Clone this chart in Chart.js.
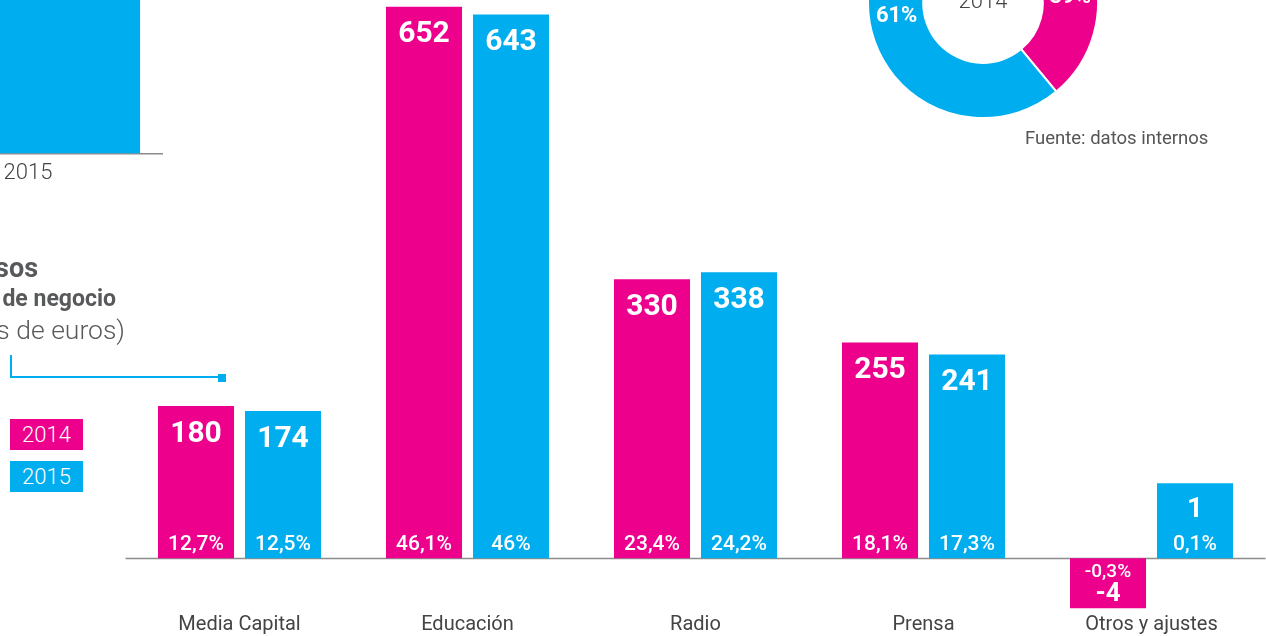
<!DOCTYPE html>
<html>
<head>
<meta charset="utf-8">
<script src="https://cdn.jsdelivr.net/npm/chart.js@4/dist/chart.umd.min.js"></script>
<style>
  html, body { margin: 0; padding: 0; background: #fff; }
  #page { position: relative; width: 1266px; height: 636px; overflow: hidden; font-family: Roboto, "Open Sans", sans-serif; }
  canvas { position: absolute; }
  #main { left: 0; top: 0; }
  #totals { left: -377px; top: -238px; }
  #donut { left: 867px; top: -113px; }
  .t { position: absolute; white-space: nowrap; text-align: right; color: #58595b; line-height: 1; }
  .key { position: absolute; left: 10px; width: 73px; height: 31px; color: #fff; font-size: 22px; font-weight: 300;
         display: flex; align-items: center; justify-content: center; }
  .rule { position: absolute; background: #00aeef; }
  #source { position: absolute; left: 1025px; top: 127px; font-size: 18.5px; color: #555; white-space: nowrap; }
</style>
</head>
<body>
<div id="page">
  <canvas id="totals" width="540" height="432"></canvas>
  <canvas id="donut" width="232" height="232"></canvas>
  <canvas id="main" width="1266" height="636"></canvas>

  <div class="t" style="right:1228px; top:255px; font-size:27px; font-weight:700;">Ingresos</div>
  <div class="t" style="right:1150px; top:287px; font-size:23px; font-weight:700;">por unidad de negocio</div>
  <div class="t" style="right:1141px; top:317px; font-size:26.5px; font-weight:300;">(millones de euros)</div>

  <div class="rule" style="left:10px; top:355px; width:2px; height:23px;"></div>
  <div class="rule" style="left:10px; top:376px; width:212px; height:2px;"></div>
  <div class="rule" style="left:218px; top:374px; width:8px; height:8px;"></div>

  <div class="key" id="key2014" style="top:419px; background:#ec008c;"></div>
  <div class="key" id="key2015" style="top:461px; background:#00aeef;"></div>

  <div id="source">Fuente: datos internos</div>
</div>

<script>
// Revenue by business unit, million euros
const categories = ['Media Capital', 'Educación', 'Radio', 'Prensa', 'Otros y ajustes'];
const years = ['2014', '2015'];
const revenue2014 = [180, 652, 330, 255, -4];
const revenue2015 = [174, 643, 338, 241, 1];
const share2014 = [12.7, 46.1, 23.4, 18.1, -0.3];
const share2015 = [12.5, 46, 24.2, 17.3, 0.1];

// Group totals per year
const totalRevenue = [1413, 1397];

// Split of the 2014 ring (percent)
const ringShare2014 = [39, 61];

const PINK = '#ec008c';
const CYAN = '#00aeef';
const FONT = 'Roboto, "Open Sans", sans-serif';

document.getElementById('key2014').textContent = years[0];
document.getElementById('key2015').textContent = years[1];

const pct = v => String(v).replace('.', ',') + '%';

// Thin grey line at the zero value, under the bars
const zeroLine = {
  id: 'zeroLine',
  beforeDatasetsDraw(chart) {
    const { ctx, chartArea, scales } = chart;
    const y = Math.round(scales.y.getPixelForValue(0)) + 0.5;
    ctx.save();
    ctx.strokeStyle = '#8c8c8c';
    ctx.lineWidth = 1.5;
    ctx.beginPath();
    ctx.moveTo(chartArea.left, y);
    ctx.lineTo(chartArea.right, y);
    ctx.stroke();
    ctx.restore();
  }
};

// Value near the top of each bar, share near its base
const barLabels = {
  id: 'barLabels',
  afterDatasetsDraw(chart) {
    const ctx = chart.ctx;
    ctx.save();
    ctx.fillStyle = '#fff';
    ctx.textAlign = 'center';
    ctx.textBaseline = 'middle';
    chart.data.datasets.forEach((ds, di) => {
      chart.getDatasetMeta(di).data.forEach((bar, i) => {
        const v = ds.data[i];
        const s = pct(ds.shares[i]);
        if (v >= 0) {
          const small = (bar.base - bar.y) < 100;
          ctx.font = 'bold ' + (small ? 28 : 30) + 'px ' + FONT;
          ctx.fillText(String(v), bar.x, bar.y + (small ? 27 : 28));
          ctx.font = '500 21px ' + FONT;
          ctx.fillText(s, bar.x, bar.base - 14);
        } else {
          ctx.font = '500 19px ' + FONT;
          ctx.fillText(s, bar.x, bar.base + 14);
          ctx.font = 'bold 26px ' + FONT;
          ctx.fillText(String(v), bar.x, bar.base + 36);
        }
      });
    });
    ctx.restore();
  }
};

new Chart(document.getElementById('main'), {
  type: 'bar',
  data: {
    labels: categories,
    datasets: [
      { label: years[0], data: revenue2014, shares: share2014, backgroundColor: PINK,
        categoryPercentage: 0.763, barPercentage: 0.874, minBarLength: 50, clip: false },
      { label: years[1], data: revenue2015, shares: share2015, backgroundColor: CYAN,
        categoryPercentage: 0.763, barPercentage: 0.874, minBarLength: 75, clip: false }
    ]
  },
  options: {
    responsive: false,
    animation: false,
    layout: { padding: { left: 125.5, right: 0.5, top: 0, bottom: -5 } },
    plugins: { legend: { display: false }, tooltip: { enabled: false } },
    scales: {
      x: {
        grid: { display: false, drawTicks: false },
        border: { display: false },
        ticks: { color: '#444', font: { family: FONT, size: 20 }, padding: 4, maxRotation: 0 }
      },
      y: { display: false, min: -60, max: 660 }
    }
  },
  plugins: [zeroLine, barLabels]
});

// Yearly totals
new Chart(document.getElementById('totals'), {
  type: 'bar',
  data: {
    labels: years,
    datasets: [{ data: totalRevenue, backgroundColor: [PINK, CYAN], barPercentage: 0.83, categoryPercentage: 1 }]
  },
  options: {
    responsive: false,
    animation: false,
    layout: { padding: 0 },
    plugins: { legend: { display: false }, tooltip: { enabled: false } },
    scales: {
      x: {
        grid: { display: false, drawTicks: false },
        border: { color: '#8c8c8c', width: 1.5 },
        ticks: { color: '#444', font: { family: FONT, size: 22, weight: 300 }, padding: 7 }
      },
      y: { display: false, min: 0, max: 1500 }
    }
  }
});

// Ring labels: year in the hole, percentages on the segments
const ringLabels = {
  id: 'ringLabels',
  afterDatasetsDraw(chart) {
    const ctx = chart.ctx;
    const arcs = chart.getDatasetMeta(0).data;
    const where = [0.615, 0.55];
    ctx.save();
    ctx.textAlign = 'center';
    ctx.textBaseline = 'middle';
    arcs.forEach((arc, i) => {
      const p = arc.getProps(['x', 'y', 'startAngle', 'endAngle', 'innerRadius', 'outerRadius']);
      const a = p.startAngle + (p.endAngle - p.startAngle) * where[i];
      const r = (p.innerRadius + p.outerRadius) / 2;
      ctx.fillStyle = '#fff';
      ctx.font = 'bold 22px ' + FONT;
      ctx.fillText(ringShare2014[i] + '%', p.x + r * Math.cos(a), p.y + r * Math.sin(a));
    });
    const c = arcs[0].getProps(['x', 'y']);
    ctx.fillStyle = '#444';
    ctx.font = '300 22px ' + FONT;
    ctx.fillText(years[0], c.x, c.y - 1);
    ctx.restore();
  }
};

new Chart(document.getElementById('donut'), {
  type: 'doughnut',
  data: {
    labels: ['', ''],
    datasets: [{ data: ringShare2014, backgroundColor: [PINK, CYAN], borderColor: '#fff', borderWidth: 2 }]
  },
  options: {
    responsive: false,
    animation: false,
    cutout: '52%',
    layout: { padding: 0 },
    plugins: { legend: { display: false }, tooltip: { enabled: false } }
  },
  plugins: [ringLabels]
});
</script>
</body>
</html>
